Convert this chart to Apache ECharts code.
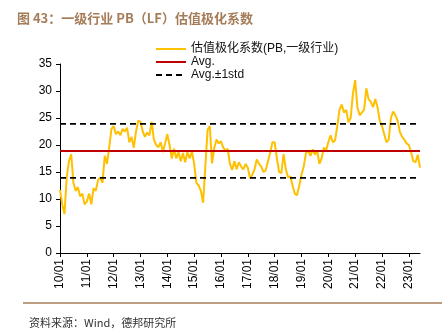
<!DOCTYPE html>
<html><head><meta charset="utf-8">
<script src="https://cdn.jsdelivr.net/npm/echarts@6/dist/echarts.min.js"></script>
<style>
html,body{margin:0;padding:0;background:#fff;}
#c{width:442px;height:332px;}
</style></head>
<body><div id="c"></div>
<script>
var startYear = 2010;
var values = [
// 2010
11.7, 9, 7.2, 14, 17, 18.3, 13, 11.5, 12.2, 10.5, 11, 9,
// 2011
9.5, 11, 9, 12, 11.5, 13.5, 14, 13, 18, 16.5, 19.5, 23,
// 2012
23.5, 22, 22.5, 21.8, 23, 22.5, 23.2, 20.5, 21.5, 19.5, 22.5, 24.5,
// 2013
24.3, 22.5, 21.5, 22.3, 21.8, 24.3, 21, 20, 19.6, 20.5, 18.7, 20.3,
// 2014
22, 20, 17.5, 19.3, 17.5, 18.7, 17, 18.5, 16.8, 18.7, 17.5, 18.8,
// 2015
16.5, 13, 12.5, 11.5, 9.3, 16, 22.8, 23.5, 16.6, 19.5, 21, 20.3,
// 2016
20.7, 19.5, 19, 19.3, 16.5, 15.4, 17, 15.5, 16.8, 16, 15.5, 16.5,
// 2017
15.8, 13.8, 14.5, 15.5, 17.3, 16.5, 16, 15, 15.3, 17, 18.5, 20.5,
// 2018
20.5, 17.5, 15, 14.8, 18.3, 15.5, 14, 14.2, 12.5, 11, 10.7, 12.5,
// 2019
14.5, 16, 18.5, 19, 18, 19.2, 18.2, 19, 16.5, 17.5, 19.5, 19,
// 2020
20.5, 21.8, 20.5, 20.8, 23.5, 26.5, 27.5, 26, 26.5, 24.2, 25, 29.5,
// 2021
32, 27, 25.5, 26, 26.5, 30.5, 28.5, 28, 27, 28.5, 27, 24.5,
// 2022
23.5, 22, 20.5, 21, 25, 26.2, 25.5, 24.5, 22.4, 21.5, 21, 20.3,
// 2023
20, 18.7, 17, 16.8, 18.2, 15.8
];
var avgValue = 18.9;
var upperValue = 23.9;
var lowerValue = 13.9;
var yTicks = [0, 5, 10, 15, 20, 25, 30, 35];
var seriesNames = ['估值极化系数(PB,一级行业)', 'Avg.', 'Avg.±1std'];

var categories = [];
for (var i = 0; i < values.length; i++) {
  var y = startYear + Math.floor(i / 12);
  var m = (i % 12) + 1;
  categories.push(String(y).slice(2) + '/' + (m < 10 ? '0' + m : m));
}
var avgData = values.map(function(){ return avgValue; });
var upData = values.map(function(){ return upperValue; });
var loData = values.map(function(){ return lowerValue; });
function isJan(idx){ return idx % 12 === 0; }

var chart = echarts.init(document.getElementById('c'), null, {renderer:'canvas'});
chart.setOption({
  animation: false,
  backgroundColor: '#fff',
  textStyle: {fontFamily: 'Liberation Sans, Arial, sans-serif'},
  title: [{
    text: '图 43：一级行业 PB（LF）估值极化系数',
    left: 12, top: 7,
    textStyle: {fontFamily: 'Noto Sans CJK SC', fontSize: 13, fontWeight: 'bold', color: '#a47c58'}
  }, {
    text: '资料来源：Wind，德邦研究所',
    left: 24, top: 312,
    textStyle: {fontFamily: 'Noto Sans CJK SC', fontSize: 11, fontWeight: 'normal', color: '#333'}
  }],
  graphic: [{
    type: 'line', shape: {x1: 23, y1: 303, x2: 442, y2: 303},
    style: {stroke: '#a47c58', lineWidth: 1.5}
  }],
  legend: {
    orient: 'vertical', left: 150, top: 38,
    itemWidth: 30, itemHeight: 8, itemGap: 1,
    itemStyle: {opacity: 0},
    textStyle: {fontSize: 12, color: '#111', fontFamily: 'Liberation Sans, Noto Sans CJK SC'},
    data: seriesNames
  },
  grid: {left: 60, right: 22, top: 64, bottom: 79},
  xAxis: {
    type: 'category', data: categories, boundaryGap: false,
    axisLine: {lineStyle: {color: '#000', width: 1}},
    axisTick: {interval: function(idx){ return isJan(idx); }, length: 4, lineStyle: {color: '#000'}},
    axisLabel: {interval: function(idx){ return isJan(idx); }, rotate: 90, fontSize: 12, color: '#000', margin: 6}
  },
  yAxis: {
    type: 'value', min: yTicks[0], max: yTicks[yTicks.length-1], interval: 5,
    axisLine: {show: true, lineStyle: {color: '#000', width: 1}},
    axisTick: {show: true, length: 4, lineStyle: {color: '#000'}},
    axisLabel: {fontSize: 12, color: '#000', margin: 8},
    splitLine: {show: false}
  },
  series: [{
    name: seriesNames[0], type: 'line', data: values, showSymbol: false, symbol: 'none',
    lineStyle: {color: '#ffc000', width: 2}, itemStyle: {color: '#ffc000'}, z: 3
  }, {
    name: seriesNames[1], type: 'line', data: avgData, showSymbol: false, symbol: 'none',
    lineStyle: {color: '#c00000', width: 2}, itemStyle: {color: '#c00000'}, z: 4
  }, {
    name: seriesNames[2], type: 'line', data: upData, showSymbol: false, symbol: 'none',
    lineStyle: {color: '#000', width: 1.8, type: [6, 4]}, itemStyle: {color: '#000'}, z: 4
  }, {
    name: seriesNames[2], type: 'line', data: loData, showSymbol: false, symbol: 'none',
    lineStyle: {color: '#000', width: 1.8, type: [6, 4]}, itemStyle: {color: '#000'}, z: 4
  }]
});
</script></body></html>
